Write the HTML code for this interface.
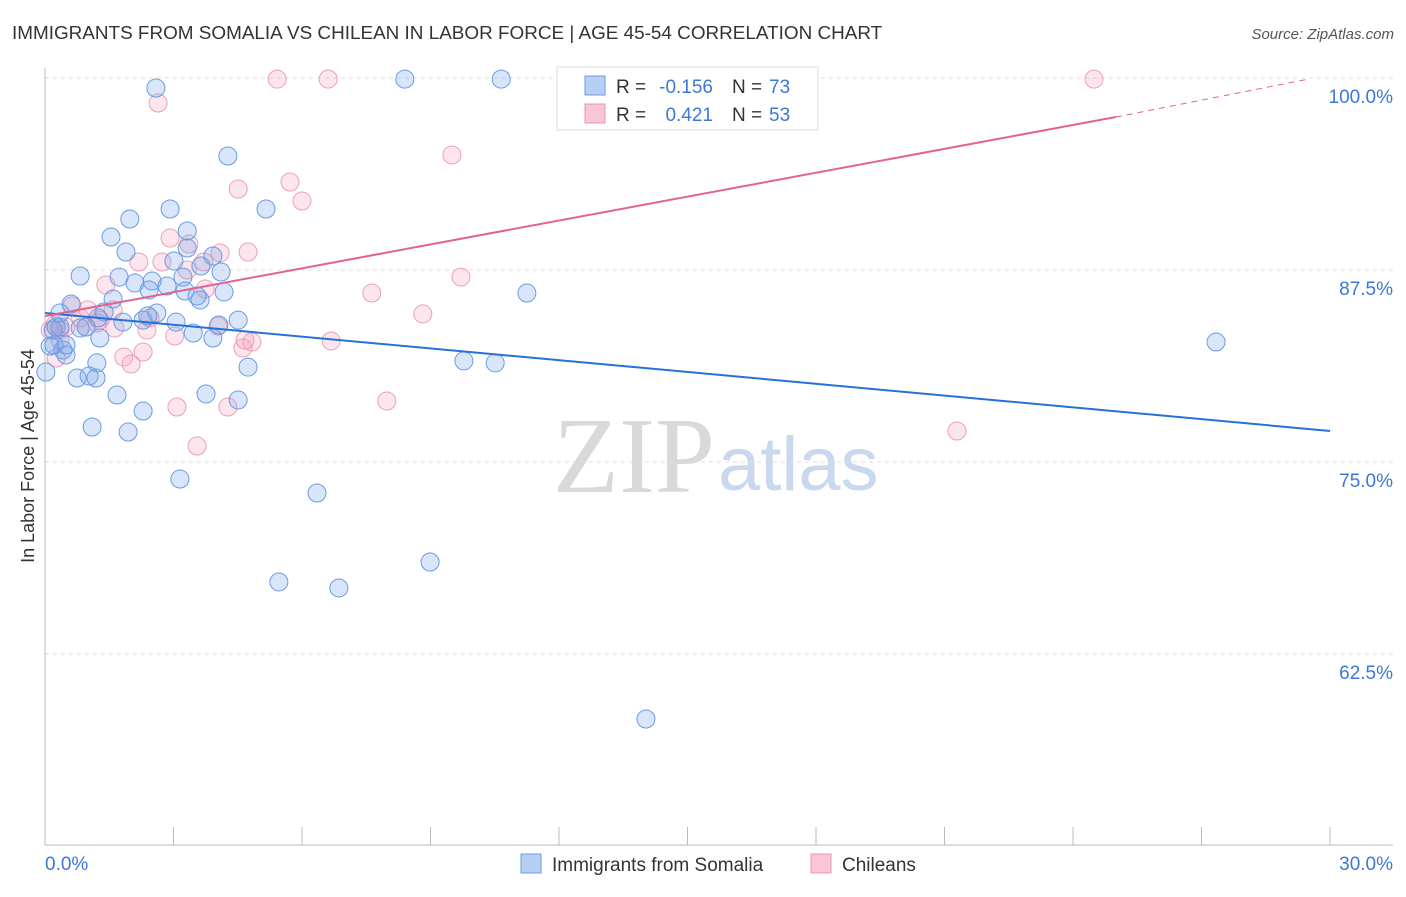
<!DOCTYPE html>
<html><head><meta charset="utf-8"><style>
body{margin:0;background:#fff;font-family:"Liberation Sans",sans-serif}
</style></head><body>
<svg id="chart" width="1406" height="892" xmlns="http://www.w3.org/2000/svg" font-family="Liberation Sans, sans-serif">
<text x="12" y="39" font-size="18.9" fill="#333">IMMIGRANTS FROM SOMALIA VS CHILEAN IN LABOR FORCE | AGE 45-54 CORRELATION CHART</text>
<text x="1394" y="39" font-size="15" fill="#555" text-anchor="end" font-style="italic">Source: ZipAtlas.com</text>
<g>
<text x="553" y="492" font-size="108" fill="#d9d9d9" font-family="Liberation Serif, serif">ZIP</text>
<text x="718" y="490" font-size="76" fill="#c9d8ee">atlas</text>
</g>
<g id="grid"></g>
<g id="axes"></g>
<g id="pts"></g>
<g id="trend"></g>
<text transform="translate(34,456) rotate(-90)" font-size="18" fill="#333" text-anchor="middle">In Labor Force | Age 45-54</text>
<g>
<rect x="557" y="67" width="261" height="63" fill="#fff" stroke="#ddd"/>
<rect x="585" y="76" width="20" height="19" fill="#b7cff5" stroke="#6d9be0"/>
<rect x="585" y="104" width="20" height="19" fill="#f9c6d6" stroke="#e895b1"/>
<text x="616" y="93" font-size="19" fill="#333">R =</text>
<text x="713" y="93" font-size="19" fill="#3b78d8" text-anchor="end">-0.156</text>
<text x="732" y="93" font-size="19" fill="#333">N =</text>
<text x="769" y="93" font-size="19" fill="#3b78d8">73</text>
<text x="616" y="121" font-size="19" fill="#333">R =</text>
<text x="713" y="121" font-size="19" fill="#3b78d8" text-anchor="end">0.421</text>
<text x="732" y="121" font-size="19" fill="#333">N =</text>
<text x="769" y="121" font-size="19" fill="#3b78d8">53</text>
</g>
<g>
<rect x="521" y="854" width="20" height="19" fill="#b7cff5" stroke="#6d9be0"/>
<text x="552" y="871" font-size="19" fill="#333">Immigrants from Somalia</text>
<rect x="811" y="854" width="20" height="19" fill="#f9c6d6" stroke="#e895b1"/>
<text x="842" y="871" font-size="19" fill="#333">Chileans</text>
</g>
</svg>
<script>
const yTicks=[100,87.5,75,62.5];
const yTickLabels=["100.0%","87.5%","75.0%","62.5%"];
const xTickLabels=["0.0%","30.0%"];
const blueX=[2.59,8.40,10.65,4.27,5.16,2.92,1.98,3.32,1.54,1.89,0.82,1.73,2.10,2.50,2.85,2.43,3.01,3.22,3.64,3.92,4.11,3.27,3.62,3.55,4.18,1.59,0.61,0.35,1.38,1.82,2.29,2.61,3.06,3.46,3.92,4.06,4.51,0.26,0.82,0.96,1.28,0.12,0.42,0.49,1.21,0.02,0.75,1.03,1.19,4.74,1.68,3.76,2.29,4.51,1.10,1.94,3.15,6.35,5.46,6.86,8.99,14.03,9.78,10.51,11.25,27.34,0.21,0.49,2.40,0.35,0.19,3.32,1.24];
const blueY=[99.35,99.93,99.93,94.92,91.47,91.47,90.82,90.04,89.65,88.67,87.11,87.04,86.65,86.78,86.46,86.20,88.09,87.04,87.76,88.41,87.37,86.13,85.55,85.81,86.07,85.61,85.29,84.70,84.77,84.11,84.24,84.70,84.11,83.40,83.07,83.92,84.24,83.79,83.72,83.79,83.07,82.55,82.29,81.97,81.45,80.86,80.47,80.60,80.47,81.18,79.36,79.43,78.32,79.04,77.28,76.95,73.89,72.98,67.19,66.80,68.49,58.27,81.58,81.45,86.00,82.81,82.62,82.62,84.51,83.79,83.59,88.93,84.38];
const pinkX=[5.42,6.61,14.26,24.49,2.64,9.50,4.51,5.72,6.00,2.92,3.36,4.74,4.09,2.19,2.73,3.71,3.32,9.71,7.63,1.42,3.74,8.82,0.63,1.00,1.59,1.21,0.96,0.49,0.35,2.38,3.03,4.04,4.83,4.62,6.68,2.29,1.84,2.01,0.26,7.98,3.08,4.27,3.55,21.29,12.30,1.28,0.23,2.45,0.35,0.12,0.82,1.63,4.67];
const pinkY=[99.93,99.93,99.93,99.93,98.37,94.99,92.77,93.23,91.99,89.58,89.19,88.67,88.61,88.02,88.02,88.02,87.50,87.04,86.00,86.52,86.26,84.64,85.16,84.90,84.90,84.05,83.79,83.79,83.59,83.59,83.20,83.85,82.81,82.42,82.88,82.16,81.84,81.38,81.77,78.97,78.58,78.58,76.04,77.02,97.92,84.24,83.92,84.38,82.94,83.59,84.38,83.72,82.94];
const blueTrend=[84.70,77.02];
const pinkTrend=[84.50,97.46,99.93];
const pinkTrendX=[0,25,29.5];

const NS="http://www.w3.org/2000/svg";
const X0=45,X1=1330,Y100=78,PXPER=192/12.5;
function sx(v){return X0+(v/30)*(X1-X0);}
function sy(v){return Y100+(100-v)*PXPER;}
function mk(tag,attrs,parent){const e=document.createElementNS(NS,tag);for(const k in attrs)e.setAttribute(k,attrs[k]);parent.appendChild(e);return e;}
const grid=document.getElementById('grid'),axes=document.getElementById('axes'),pts=document.getElementById('pts'),trend=document.getElementById('trend');
yTicks.forEach((t,i)=>{
 const l=mk('line',{x1:X0,x2:1393,y1:sy(t),y2:sy(t),stroke:'#ddd','stroke-dasharray':'4,4'},grid);
 
 
 const tx=mk('text',{x:1393,y:sy(t)+25,'font-size':19,fill:'#3b78d8','text-anchor':'end'},grid);
 tx.textContent=yTickLabels[i];
 
 
});
mk('line',{x1:X0,x2:X0,y1:68,y2:845,stroke:'#bbb'},axes);
mk('line',{x1:X0,x2:1393,y1:845,y2:845,stroke:'#bbb'},axes);
for(let i=0;i<=10;i++){const x=sx(i*3);mk('line',{x1:x,x2:x,y1:827,y2:845,stroke:'#bbb'},axes);}
const xl0=mk('text',{x:45,y:870,'font-size':19,fill:'#3b78d8'},axes);xl0.textContent=xTickLabels[0];


const xl1=mk('text',{x:1393,y:870,'font-size':19,fill:'#3b78d8','text-anchor':'end'},axes);xl1.textContent=xTickLabels[1];


pinkX.forEach((v,i)=>{
 const c=mk('circle',{cx:sx(v),cy:sy(pinkY[i]),r:9,fill:'rgba(244,160,188,0.28)',stroke:'#eba0b8','stroke-width':1},pts);
 
 
});
blueX.forEach((v,i)=>{
 const c=mk('circle',{cx:sx(v),cy:sy(blueY[i]),r:9,fill:'rgba(120,165,235,0.28)',stroke:'#6a9be3','stroke-width':1},pts);
 
 
});
const bl=mk('line',{x1:sx(0),y1:sy(blueTrend[0]),x2:sx(30),y2:sy(blueTrend[1]),stroke:'#2571d9','stroke-width':2},trend);


const pl=mk('line',{x1:sx(pinkTrendX[0]),y1:sy(pinkTrend[0]),x2:sx(pinkTrendX[1]),y2:sy(pinkTrend[1]),stroke:'#e2638f','stroke-width':2},trend);


const pd=mk('line',{x1:sx(pinkTrendX[1]),y1:sy(pinkTrend[1]),x2:sx(pinkTrendX[2]),y2:sy(pinkTrend[2]),stroke:'#e2638f','stroke-width':1,'stroke-dasharray':'6,5'},trend);


</script>
</body></html>
